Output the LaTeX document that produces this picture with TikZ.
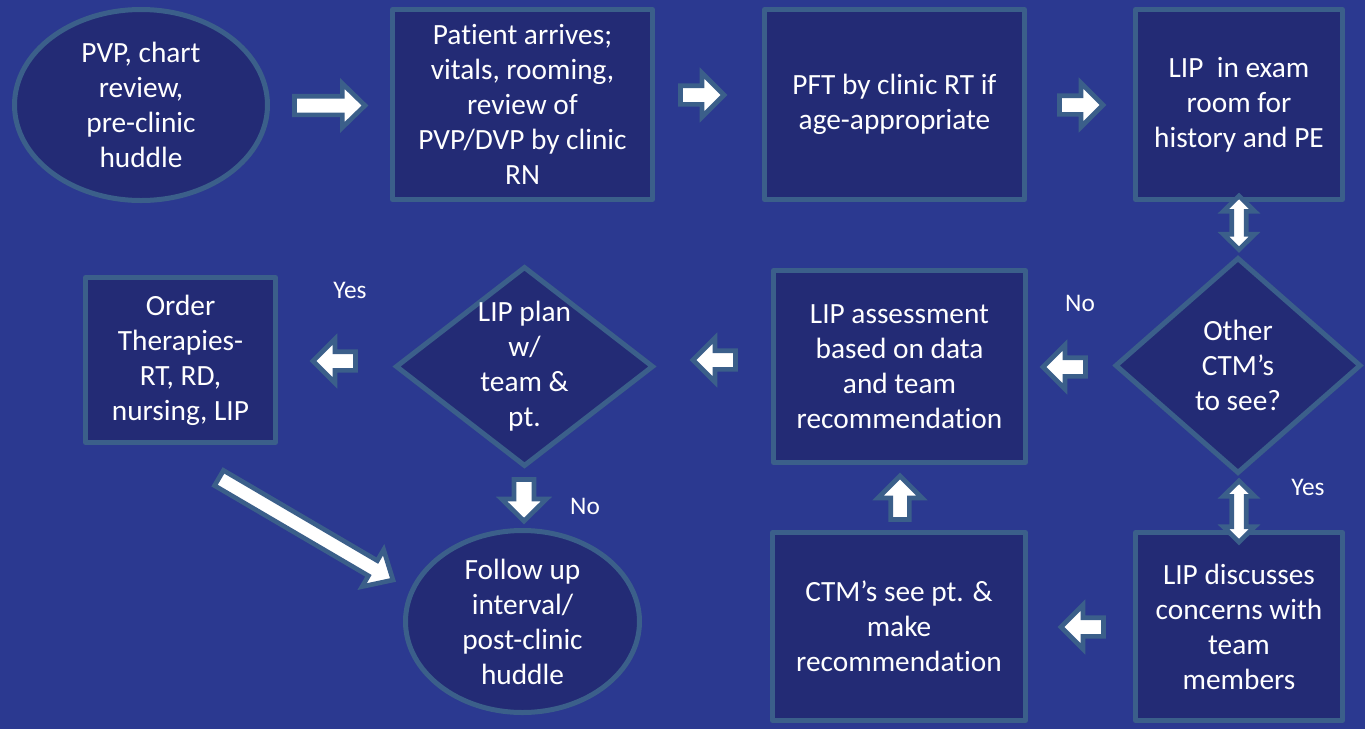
\documentclass[tikz,border=0pt]{standalone}
\usepackage{fontspec}
\setmainfont{Carlito}[Ligatures=NoCommon]
\usetikzlibrary{shapes.geometric,calc}
\definecolor{bgblue}{RGB}{43,57,144}
\definecolor{boxfill}{RGB}{35,43,117}
\definecolor{edgeblue}{RGB}{59,95,138}
% single block arrow: #1 name, #2 tail, #3 tip, #4 shaft half width, #5 head half width, #6 head length
\newcommand\blockarrow[6]{%
  \coordinate (#1s) at #2;
  \coordinate (#1e) at #3;
  \coordinate (#1b) at ($(#1e)!#6!(#1s)$);
  \draw[blk] ($(#1s)!#4!90:(#1e)$) -- ($(#1b)!#4!90:(#1e)$) -- ($(#1b)!#5!90:(#1e)$) -- (#1e)
    -- ($(#1b)!#5!-90:(#1e)$) -- ($(#1b)!#4!-90:(#1e)$) -- ($(#1s)!#4!-90:(#1e)$) -- cycle;
}
% double block arrow
\newcommand\dblarrow[6]{%
  \coordinate (#1s) at #2;
  \coordinate (#1e) at #3;
  \coordinate (#1b) at ($(#1s)!#6!(#1e)$);
  \coordinate (#1c) at ($(#1e)!#6!(#1s)$);
  \draw[blk] (#1s) -- ($(#1b)!#5!90:(#1e)$) -- ($(#1b)!#4!90:(#1e)$) -- ($(#1c)!#4!90:(#1e)$)
    -- ($(#1c)!#5!90:(#1e)$) -- (#1e) -- ($(#1c)!#5!-90:(#1e)$) -- ($(#1c)!#4!-90:(#1e)$)
    -- ($(#1b)!#4!-90:(#1e)$) -- ($(#1b)!#5!-90:(#1e)$) -- cycle;
}
\tikzset{
  shp/.style={draw=edgeblue, fill=boxfill, line width=3.75pt, text=white, align=center,
    inner sep=0pt, font=\fontsize{22}{26.25}\selectfont},
  boxn/.style={shp, rectangle, line join=round},
  ell/.style={shp, ellipse, inner sep=-25pt},
  dia/.style={shp, diamond, inner sep=-25pt},
  blk/.style={draw=edgeblue, fill=white, line width=3.5pt, line join=miter},
  lbl/.style={text=white, inner sep=0pt, font=\fontsize{19}{23}\selectfont}
}
\begin{document}
\begin{tikzpicture}[x=0.75pt,y=-0.75pt]
\useasboundingbox (0,0) rectangle (1365,729);
\fill[bgblue] (0,0) rectangle (1365,729);

\node[ell, minimum width=253*0.75pt, minimum height=191*0.75pt] (n1) at (141,105)
  {PVP, chart\\review,\\pre-clinic\\huddle};
\node[boxn, minimum width=260*0.75pt, minimum height=190*0.75pt] (n2) at (522.5,104.5)
  {Patient arrives;\\vitals, rooming,\\review of\\PVP/DVP by clinic\\RN};
\node[boxn, minimum width=260*0.75pt, minimum height=190*0.75pt] (n3) at (894.5,104.5)
  {PFT by clinic RT if\\age-appropriate};
\node[boxn, minimum width=207*0.75pt, minimum height=190*0.75pt] (n4) at (1239,104.5)
  {LIP\ \ in exam\\room for\\history and PE};
\node[dia, minimum width=246*0.75pt, minimum height=216*0.75pt] (d1) at (1238,365.5)
  {Other\\CTM’s\\to see?};
\node[boxn, minimum width=252*0.75pt, minimum height=192*0.75pt] (n5) at (899.5,366.5)
  {LIP assessment\\based on data\\and team\\recommendation};
\node[dia, minimum width=258*0.75pt, minimum height=200*0.75pt] (d2) at (524.5,366.5)
  {LIP plan\\w/\\team \&\\pt.};
\node[boxn, minimum width=190*0.75pt, minimum height=165*0.75pt] (n6) at (180.5,360)
  {Order\\Therapies-\\RT, RD,\\nursing, LIP};
\node[ell, minimum width=234*0.75pt, minimum height=182*0.75pt] (n7) at (522.5,621.5)
  {Follow up\\interval/\\post-clinic\\huddle};
\node[boxn, minimum width=253*0.75pt, minimum height=188*0.75pt] (n8) at (899,626.5)
  {CTM’s see pt. \&\\make\\recommendation};
\node[boxn, minimum width=207*0.75pt, minimum height=188*0.75pt] (n9) at (1239,626.5)
  {LIP discusses\\concerns with\\team\\members};

% block arrows
\blockarrow{a12}{(294.5,105.5)}{(365,105.5)}{7pt}{16.5pt}{17pt}
\blockarrow{a23}{(680.5,95)}{(724,95)}{7pt}{16.5pt}{16.5pt}
\blockarrow{a34}{(1059.5,105)}{(1103,105)}{7pt}{16.5pt}{16.5pt}
\blockarrow{ad15}{(1085.5,367)}{(1043,367)}{7pt}{16.5pt}{16.5pt}
\blockarrow{a5d2}{(735.5,360)}{(693,360)}{7pt}{16.5pt}{16.5pt}
\blockarrow{ad26}{(355.5,361)}{(313,361)}{7pt}{16.5pt}{16.5pt}
\blockarrow{a98}{(1103.5,627)}{(1061,627)}{7pt}{16.5pt}{16.5pt}
\blockarrow{a85}{(900,519.5)}{(900,476)}{7pt}{16.5pt}{16.5pt}
\blockarrow{ad27}{(524,479.5)}{(524,521)}{7.5pt}{16.8pt}{16.5pt}
\blockarrow{a67}{(219,478)}{(393,580)}{6.6pt}{16pt}{17.5pt}
\dblarrow{a4d1}{(1239,196)}{(1239,249.5)}{5.4pt}{11.8pt}{11.5pt}
\dblarrow{ad19}{(1239,481)}{(1239,542)}{5.4pt}{11.8pt}{11.5pt}

% labels
\node[lbl] (yes1) at (350,290) {Yes};
\node[lbl] (no1) at (1080,303) {No};
\node[lbl] (yes2) at (1308,487) {Yes};
\node[lbl] (no2) at (585,506) {No};
\end{tikzpicture}
\end{document}
